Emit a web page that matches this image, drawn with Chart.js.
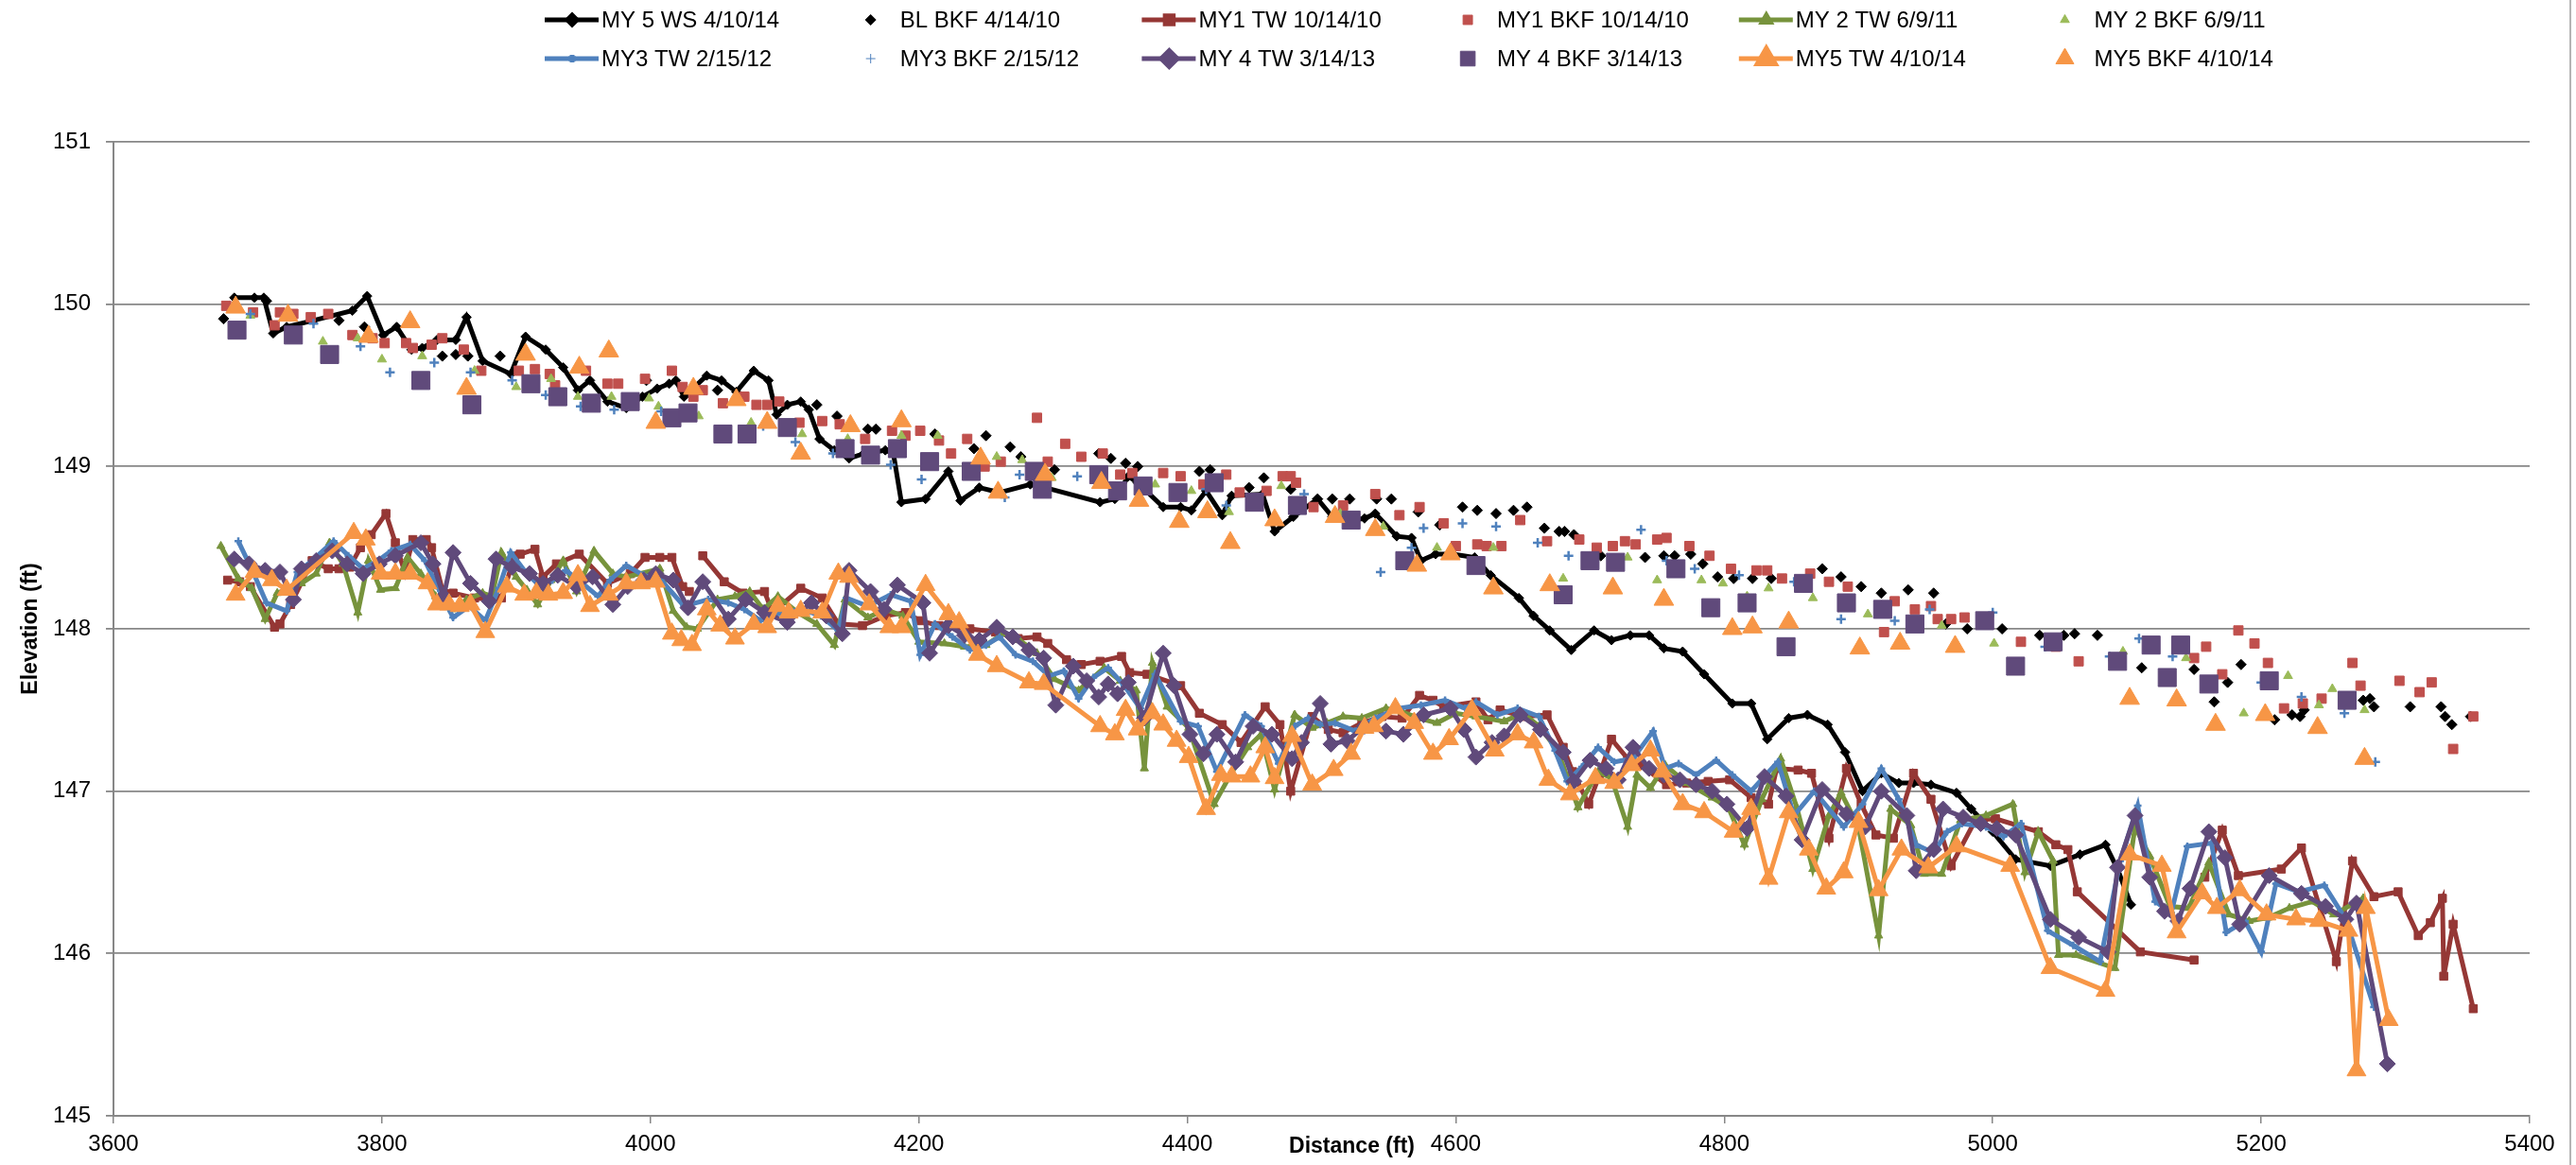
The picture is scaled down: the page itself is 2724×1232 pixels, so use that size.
<!DOCTYPE html>
<html>
<head>
<meta charset="utf-8">
<title>Perfil longitudinal</title>
<script src="https://cdn.jsdelivr.net/npm/chart.js"></script>
<style>
  html, body { margin: 0; padding: 0; background: #ffffff; }
  canvas { display: block; }
</style>
</head>
<body>
<canvas id="perfil" width="2724" height="1232"></canvas>
<script>
// --- Dados: distancia (ft) e elevacao (ft) de cada levantamento ---
const seriesNames = ['MY 5 WS 4/10/14', 'BL BKF 4/14/10', 'MY1 TW 10/14/10', 'MY1 BKF 10/14/10',
  'MY 2 TW 6/9/11', 'MY 2 BKF 6/9/11', 'MY3 TW 2/15/12', 'MY3 BKF 2/15/12',
  'MY 4 TW 3/14/13', 'MY 4 BKF 3/14/13', 'MY5 TW 4/10/14', 'MY5 BKF 4/10/14'];

const distanceTicks = [3600, 3800, 4000, 4200, 4400, 4600, 4800, 5000, 5200, 5400];
const elevationTicks = [145, 146, 147, 148, 149, 150, 151];

const wsDist = [3690,3705,3712,3719,3729,3749,3778,3789,3801,3811,
  3822,3830,3841,3855,3863,3875,3896,3907,3922,3935,
  3946,3955,3968,3982,3994,4005,4014,4019,4025,4042,
  4053,4064,4077,4088,4094,4102,4112,4118,4126,4137,
  4148,4159,4175,4181,4187,4205,4222,4231,4245,4260,
  4283,4294,4335,4346,4356,4363,4382,4395,4403,4414,
  4426,4433,4456,4465,4479,4497,4508,4523,4532,4540,
  4556,4567,4574,4585,4598,4614,4626,4647,4658,4670,
  4686,4703,4716,4730,4744,4755,4769,4785,4806,4820,
  4832,4848,4862,4877,4890,4903,4917,4930,4941,4954,
  4973,4984,5000,5017,5043,5065,5084,5093,5103];
const wsElev = [150.04,150.04,150.04,149.82,149.86,149.90,149.96,150.05,149.81,149.86,
  149.72,149.73,149.78,149.78,149.92,149.65,149.57,149.80,149.72,149.61,
  149.47,149.53,149.40,149.36,149.43,149.48,149.51,149.53,149.43,149.56,
  149.53,149.46,149.59,149.53,149.32,149.38,149.40,149.35,149.17,149.10,
  149.05,149.08,149.10,149.08,148.78,148.80,148.97,148.79,148.87,148.84,
  148.89,148.87,148.78,148.80,148.94,148.90,148.75,148.75,148.73,148.85,
  148.70,148.82,148.83,148.60,148.69,148.80,148.69,148.67,148.68,148.71,
  148.57,148.56,148.42,148.46,148.46,148.44,148.33,148.19,148.08,147.99,
  147.87,147.99,147.93,147.96,147.96,147.88,147.86,147.72,147.54,147.54,
  147.32,147.45,147.47,147.41,147.24,147.00,147.11,147.05,147.05,147.04,
  146.99,146.89,146.75,146.58,146.54,146.61,146.67,146.52,146.30];

const blBkfDist = [3682,3714,3768,3787,3845,3855,3864,3888,3997,4050,
  4124,4139,4162,4168,4212,4241,4250,4268,4276,4301,
  4334,4343,4354,4363,4409,4417,4446,4457,4477,4497,
  4508,4521,4541,4552,4572,4588,4605,4616,4630,4643,
  4653,4666,4677,4681,4688,4708,4741,4755,4763,4775,
  4784,4795,4807,4821,4835,4873,4887,4902,4917,4937,
  4956,4965,4981,5007,5035,5053,5061,5078,5111,5150,
  5165,5175,5185,5210,5223,5229,5232,5276,5281,5284,
  5311,5334,5337,5342,5356];
const blBkfElev = [149.91,150.02,149.90,149.86,149.68,149.69,149.68,149.68,149.53,149.47,
  149.38,149.31,149.23,149.23,149.20,149.11,149.19,149.12,149.06,148.98,
  149.08,149.05,149.02,149.00,148.97,148.98,148.87,148.93,148.86,148.80,
  148.80,148.80,148.80,148.80,148.72,148.64,148.75,148.73,148.71,148.73,
  148.75,148.62,148.60,148.60,148.58,148.45,148.44,148.45,148.45,148.46,
  148.40,148.32,148.31,148.31,148.31,148.37,148.32,148.26,148.22,148.24,
  148.22,148.03,148.00,148.00,147.96,147.96,147.97,147.96,147.76,147.75,
  147.55,147.67,147.78,147.44,147.47,147.46,147.50,147.56,147.57,147.52,
  147.52,147.52,147.46,147.41,147.46];

const my1TwDist = [3685,3694,3702,3720,3724,3732,3748,3760,3768,3776,
  3784,3792,3803,3810,3817,3823,3833,3837,3845,3853,
  3869,3880,3889,3899,3903,3914,3920,3930,3947,3968,
  3985,3996,4007,4016,4024,4029,4034,4039,4055,4069,
  4085,4091,4112,4128,4140,4158,4175,4190,4201,4215,
  4238,4257,4274,4288,4296,4310,4321,4335,4351,4357,
  4370,4395,4409,4426,4440,4458,4469,4477,4493,4505,
  4516,4530,4545,4560,4573,4583,4591,4615,4624,4633,
  4650,4668,4680,4687,4699,4707,4716,4728,4738,4757,
  4772,4788,4804,4820,4833,4839,4855,4865,4878,4891,
  4902,4913,4926,4941,4954,4969,4987,5002,5034,5047,
  5056,5063,5110,5150,5154,5158,5171,5183,5215,5230,
  5256,5268,5284,5302,5317,5326,5335,5336,5343,5358];
const my1TwElev = [148.30,148.29,148.26,148.01,148.03,148.15,148.42,148.37,148.37,148.38,
  148.50,148.58,148.71,148.53,148.35,148.55,148.55,148.50,148.24,148.22,
  148.19,148.18,148.19,148.45,148.46,148.49,148.32,148.40,148.46,148.28,
  148.34,148.44,148.44,148.44,148.26,148.23,null,148.45,148.29,148.22,
  148.23,148.10,148.25,148.19,148.03,148.02,148.08,148.10,148.05,148.02,
  148.00,147.98,147.94,147.95,147.91,147.81,147.78,147.80,147.83,147.73,
  147.72,147.65,147.48,147.41,147.30,147.52,147.41,147.00,147.46,147.38,
  147.36,147.42,147.46,147.45,147.59,147.56,147.52,147.55,147.44,147.50,
  147.46,147.47,147.27,147.12,146.92,147.10,147.32,147.20,147.16,147.04,
  147.05,147.06,147.07,146.96,146.92,147.14,147.13,147.11,146.71,147.14,
  146.92,146.73,146.71,147.11,146.95,146.54,146.82,146.83,146.75,146.67,
  146.64,146.38,146.01,145.96,null,146.47,146.76,146.48,146.52,146.65,
  145.95,146.57,146.35,146.38,146.11,146.19,146.34,145.86,146.18,145.66];

const my1BkfDist = [3684,3704,3720,3724,3734,3747,3760,3778,3793,3802,
  3818,3823,3837,3845,3861,3874,3902,3914,3925,3929,
  3952,3968,3976,3996,4016,4024,4032,4039,4054,4070,
  4079,4087,4096,4111,4128,4141,4160,4180,4190,4201,
  4215,4224,4236,4249,4261,4288,4296,4309,4321,4337,
  4350,4359,4382,4395,4412,4429,4439,4459,4471,4477,
  4481,4494,4516,4540,4558,4573,4591,4600,4616,4623,
  4634,4648,4668,4692,4705,4717,4726,4734,4750,4757,
  4774,4789,4805,4824,4832,4843,4864,4878,4892,4919,
  4927,4942,4954,4959,4969,4979,5021,5047,5064,5150,
  5159,5171,5183,5195,5205,5217,5231,5245,5268,5274,
  5303,5318,5327,5343,5358];
const my1BkfElev = [149.99,149.95,149.87,149.95,149.94,149.92,149.94,149.81,149.79,149.76,
  149.76,149.73,149.75,149.79,149.72,149.59,149.59,149.60,149.57,149.50,
  149.59,149.51,149.51,149.54,149.59,149.49,149.43,149.47,149.39,149.43,
  149.38,149.38,149.40,149.27,149.28,149.26,149.17,149.22,149.19,149.22,
  149.16,149.08,149.17,149.00,149.03,149.30,149.03,149.14,149.06,149.08,
  148.95,148.96,148.96,148.94,148.89,148.95,148.84,148.85,148.94,148.94,
  148.90,148.75,148.76,148.83,148.70,148.75,148.65,148.51,148.52,148.51,
  148.51,148.67,148.54,148.55,148.50,148.51,148.54,148.52,148.55,148.56,
  148.51,148.45,148.37,148.36,148.36,148.31,148.34,148.29,148.26,147.98,
  148.17,148.12,148.14,148.06,148.06,148.07,147.92,147.89,147.80,147.82,
  147.89,147.72,147.99,147.91,147.79,147.51,147.54,147.57,147.79,147.65,
  147.68,147.61,147.67,147.26,147.46];

const my2TwDist = [3680,3693,3703,3713,3722,3740,3751,3761,3771,3782,
  3790,3799,3810,3819,3829,3840,3852,3863,3875,3882,
  3889,3900,3908,3916,3926,3935,3945,3958,3972,3982,
  4007,4017,4027,4035,4050,4063,4074,4084,4095,4110,
  4124,4137,4145,4162,4175,4188,4200,4219,4234,4250,
  4263,4275,4288,4301,4319,4338,4350,4362,4368,4374,
  4385,4401,4420,4432,4445,4455,4465,4480,4493,4504,
  4516,4530,4548,4560,4572,4586,4600,4615,4636,4650,
  4662,4676,4691,4706,4716,4728,4735,4745,4756,4772,
  4791,4803,4815,4828,4842,4854,4866,4878,4887,4900,
  4915,4924,4939,4949,4962,4976,4995,5015,5024,5034,
  5045,5049,5062,5091,5106,5117,5132,5146,5161,5176,
  5191,5205,5221,5238,5254,5276];
const my2TwElev = [148.51,148.31,148.25,148.06,148.22,148.28,148.34,148.53,148.40,148.10,
  148.42,148.24,148.25,148.44,148.34,148.20,148.12,148.18,148.22,148.20,
  148.47,148.32,148.24,148.15,148.30,148.42,148.23,148.48,148.34,148.32,
  148.37,148.11,148.01,148.00,148.18,148.20,148.23,148.12,148.20,148.10,
  148.03,147.90,148.18,148.07,148.12,148.08,147.92,147.91,147.89,147.90,
  147.97,147.93,147.85,147.69,147.62,147.76,147.68,147.62,147.14,147.79,
  147.52,147.39,146.92,147.10,147.27,147.35,147.01,147.47,147.39,147.42,
  147.46,147.45,147.51,147.49,147.45,147.42,147.48,147.46,147.43,147.48,
  147.40,147.25,146.90,147.12,147.08,146.78,147.10,147.02,147.16,147.05,
  146.96,146.90,146.67,146.95,147.20,146.90,146.52,146.85,146.99,146.78,
  146.11,146.89,146.79,146.49,146.49,146.82,146.85,146.92,146.50,146.75,
  146.57,145.99,145.99,145.91,146.78,146.60,146.29,146.28,146.56,146.24,
  146.20,146.22,146.28,146.32,146.24,146.34];

const my2BkfDist = [3702,3756,3782,3800,3830,3869,3900,3926,3946,3971,
  3999,4006,4036,4075,4113,4147,4187,4214,4258,4277,
  4299,4376,4403,4431,4470,4514,4546,4586,4628,4680,
  4728,4750,4783,4799,4817,4833,4866,4907,4962,5001,
  5097,5144,5187,5220,5243,5253,5277];
const my2BkfElev = [149.93,149.77,149.79,149.66,149.68,149.59,149.49,149.54,149.43,149.43,
  149.42,149.37,149.31,149.27,149.20,149.17,149.19,149.19,149.06,149.04,
  148.93,148.89,148.85,148.72,148.88,148.71,148.63,148.50,148.50,148.31,
  148.44,148.30,148.30,148.28,148.20,148.25,148.19,148.09,148.02,147.91,
  147.86,147.82,147.48,147.71,147.53,147.63,147.50];

const my3TwDist = [3693,3704,3714,3729,3737,3748,3764,3775,3786,3797,
  3807,3821,3832,3842,3853,3865,3877,3887,3896,3907,
  3918,3927,3937,3948,3961,3970,3982,3995,4008,4025,
  4043,4058,4070,4082,4097,4113,4127,4140,4146,4162,
  4179,4194,4201,4212,4225,4238,4250,4260,4272,4285,
  4297,4308,4319,4330,4341,4353,4365,4376,4395,4408,
  4422,4443,4455,4468,4480,4490,4499,4510,4525,4540,
  4557,4574,4592,4607,4615,4631,4646,4662,4674,4683,
  4694,4706,4718,4732,4747,4756,4766,4779,4794,4806,
  4820,4831,4840,4852,4867,4889,4903,4917,4930,4943,
  4956,4966,4977,4995,5008,5021,5041,5060,5080,5095,
  5108,5121,5133,5145,5163,5174,5188,5200,5211,5228,
  5247,5263,5284];
const my3TwElev = [148.54,148.35,148.16,148.11,148.35,148.42,148.54,148.45,148.37,148.42,
  148.48,148.52,148.42,148.25,148.07,148.14,148.05,148.25,148.47,148.35,
  148.26,148.30,148.36,148.29,148.20,148.30,148.39,148.33,148.30,148.14,
  148.18,148.16,148.12,148.05,148.10,148.12,148.08,147.99,148.19,148.14,
  148.21,148.17,147.84,148.03,147.95,147.87,147.90,147.95,147.84,147.80,
  147.71,147.74,147.57,147.70,147.76,147.65,147.51,147.72,147.43,147.40,
  147.12,147.47,147.40,147.17,147.40,147.45,147.41,147.42,147.37,147.45,
  147.51,147.53,147.56,147.51,147.55,147.47,147.51,147.46,147.25,147.06,
  147.15,147.27,147.18,147.20,147.37,147.14,147.17,147.10,147.19,147.10,
  147.00,147.10,147.18,146.85,147.00,146.78,146.92,147.14,146.95,146.67,
  146.62,146.75,146.80,146.78,146.72,146.80,146.14,146.05,145.95,146.57,
  146.91,146.32,146.25,146.66,146.68,146.13,146.20,146.01,146.43,146.38,
  146.42,146.21,145.67];

const my3BkfDist = [3702,3749,3784,3806,3839,3866,3897,3922,3948,3973,
  4008,4084,4108,4136,4179,4202,4264,4275,4318,4414,
  4429,4487,4544,4567,4576,4605,4630,4661,4684,4738,
  4757,4778,4811,4852,4887,4927,4953,5000,5039,5087,
  5109,5134,5200,5230,5262,5285];
const my3BkfElev = [149.94,149.88,149.74,149.58,149.64,149.58,149.53,149.44,149.37,149.35,
  149.34,149.25,149.15,149.08,149.01,148.92,148.81,148.95,148.94,148.86,
  148.76,148.83,148.35,148.50,148.62,148.65,148.63,148.53,148.45,148.61,
  148.42,148.37,148.33,148.29,148.06,148.05,148.12,148.10,147.89,147.83,
  147.94,147.83,147.67,147.58,147.48,147.18];

const my4TwDist = [3690,3701,3713,3724,3734,3740,3751,3763,3774,3786,
  3798,3810,3829,3838,3846,3853,3866,3880,3885,3897,
  3910,3920,3931,3945,3957,3972,3983,3995,4004,4017,
  4028,4039,4058,4071,4085,4102,4120,4131,4143,4148,
  4164,4174,4184,4203,4208,4222,4234,4245,4258,4270,
  4282,4293,4302,4315,4325,4334,4341,4348,4356,4368,
  4382,4390,4402,4412,4422,4436,4449,4463,4478,4485,
  4499,4507,4519,4532,4548,4561,4576,4596,4606,4615,
  4627,4636,4648,4663,4680,4688,4700,4712,4721,4732,
  4744,4755,4767,4779,4791,4802,4817,4830,4846,4858,
  4873,4891,4905,4917,4936,4943,4956,4963,4978,4991,
  5003,5017,5043,5064,5086,5093,5106,5117,5128,5138,
  5147,5161,5173,5184,5206,5230,5248,5263,5271,5294];
const my4TwElev = [148.43,148.40,148.36,148.35,148.18,148.37,148.42,148.48,148.40,148.34,
  148.40,148.45,148.53,148.40,148.20,148.47,148.28,148.17,148.43,148.38,
  148.34,148.28,148.33,148.26,148.32,148.15,148.26,148.30,148.34,148.30,
  148.13,148.29,148.06,148.18,148.10,148.04,148.16,148.08,147.97,148.36,
  148.23,148.12,148.27,148.16,147.85,148.02,147.96,147.93,148.01,147.95,
  147.87,147.82,147.53,147.77,147.68,147.58,147.66,147.60,147.67,147.45,
  147.85,147.65,147.35,147.23,147.35,147.18,147.40,147.35,147.20,147.30,
  147.54,147.29,147.31,147.40,147.37,147.35,147.47,147.51,147.38,147.21,
  147.30,147.34,147.47,147.38,147.24,147.06,147.19,147.14,147.07,147.27,
  147.14,147.10,147.07,147.04,147.00,146.92,146.77,147.09,146.97,146.70,
  147.01,146.86,146.78,147.00,146.85,146.51,146.64,146.89,146.84,146.80,
  146.77,146.73,146.21,146.10,146.01,146.53,146.85,146.47,146.26,146.20,
  146.40,146.75,146.59,146.18,146.48,146.37,146.29,146.21,146.31,145.32];

const my4BkfDist = [3692,3734,3761,3829,3867,3911,3931,3956,3985,4016,
  4028,4054,4072,4102,4145,4164,4184,4208,4239,4286,
  4292,4334,4348,4367,4393,4420,4450,4482,4522,4562,
  4615,4680,4700,4719,4764,4790,4817,4846,4859,4891,
  4918,4942,4994,5017,5045,5093,5118,5130,5140,5161,
  5206,5264];
const my4BkfElev = [149.84,149.81,149.69,149.53,149.38,149.51,149.43,149.39,149.40,149.30,
  149.33,149.20,149.20,149.24,149.11,149.07,149.11,149.03,148.97,148.97,
  148.86,148.95,148.85,148.88,148.84,148.90,148.78,148.76,148.67,148.42,
  148.39,148.21,148.42,148.41,148.37,148.13,148.16,147.89,148.28,148.16,
  148.12,148.03,148.05,147.77,147.92,147.80,147.90,147.70,147.90,147.66,
  147.68,147.56];

const my5TwDist = [3691,3705,3718,3729,3779,3788,3799,3810,3821,3834,
  3841,3850,3858,3866,3877,3893,3906,3915,3924,3935,
  3946,3955,3969,3982,3993,4004,4016,4023,4031,4042,
  4052,4063,4077,4087,4095,4103,4112,4128,4140,4148,
  4163,4178,4187,4205,4222,4230,4244,4258,4282,4293,
  4335,4346,4354,4363,4374,4382,4392,4401,4414,4425,
  4433,4447,4458,4465,4478,4493,4509,4522,4532,4539,
  4555,4569,4583,4595,4612,4629,4646,4658,4669,4685,
  4704,4718,4731,4745,4754,4769,4785,4807,4820,4833,
  4848,4863,4876,4889,4900,4915,4932,4952,4973,5013,
  5043,5084,5102,5126,5137,5156,5167,5184,5204,5226,
  5243,5265,5271,5278,5295];
const my5TwElev = [148.21,148.35,148.30,148.24,148.59,148.55,148.34,148.34,148.34,148.28,
  148.15,148.15,148.14,148.15,147.98,148.26,148.21,148.22,148.21,148.22,
  148.33,148.14,148.21,148.28,148.28,148.29,147.97,147.93,147.90,148.12,
  148.02,147.94,148.03,148.01,148.14,148.10,148.11,148.10,148.34,148.32,
  148.15,148.01,148.01,148.27,148.09,148.04,147.84,147.77,147.67,147.66,
  147.40,147.35,147.50,147.38,147.48,147.41,147.31,147.21,146.89,147.10,
  147.09,147.09,147.27,147.08,147.34,147.04,147.13,147.23,147.39,147.40,
  147.51,147.42,147.23,147.32,147.50,147.25,147.35,147.30,147.07,146.98,
  147.08,147.05,147.16,147.25,147.12,146.92,146.87,146.75,146.89,146.46,
  146.87,146.64,146.40,146.50,146.81,146.39,146.64,146.53,146.66,146.54,
  145.91,145.77,146.61,146.54,146.13,146.37,146.28,146.39,146.24,146.21,
  146.20,146.14,145.28,146.28,145.59];

const my5BkfDist = [3691,3730,3790,3821,3863,3907,3947,3969,4004,4032,
  4064,4087,4112,4149,4187,4246,4259,4294,4336,4364,
  4394,4415,4432,4465,4510,4540,4571,4596,4628,4670,
  4717,4755,4806,4821,4848,4901,4931,4972,5102,5137,
  5166,5203,5242,5277];
const my5BkfElev = [149.98,149.93,149.80,149.89,149.48,149.69,149.61,149.71,149.27,149.48,
  149.41,149.27,149.08,149.25,149.28,149.05,148.84,148.95,148.90,148.79,
  148.66,148.72,148.53,148.67,148.69,148.61,148.39,148.46,148.25,148.27,
  148.25,148.18,148.00,148.01,148.04,147.88,147.91,147.89,147.57,147.56,
  147.41,147.47,147.39,147.20];

// --- Estilo de cada serie (mesma ordem de seriesNames) ---
const seriesStyles = [
  { color: '#000000', line: 5, point: 'rectRot', radius: 5 },
  { color: '#000000', line: 0, point: 'rectRot', radius: 5.5 },
  { color: '#953735', line: 5, point: 'rect', radius: 6 },
  { color: '#C0504D', line: 0, point: 'rect', radius: 7 },
  { color: '#77933C', line: 5, point: 'triangle', radius: 5 },
  { color: '#9BBB59', line: 0, point: 'triangle', radius: 5.5 },
  { color: '#4F81BD', line: 5, point: 'cross', radius: 4 },
  { color: '#4F81BD', line: 0, point: 'cross', radius: 5 },
  { color: '#604A7B', line: 5, point: 'rectRot', radius: 8.5 },
  { color: '#604A7B', line: 0, point: 'rect', radius: 13.5 },
  { color: '#F79646', line: 5, point: 'triangle', radius: 11.5 },
  { color: '#F79646', line: 0, point: 'triangle', radius: 12 }
];

const seriesData = [
  [wsDist, wsElev], [blBkfDist, blBkfElev], [my1TwDist, my1TwElev], [my1BkfDist, my1BkfElev],
  [my2TwDist, my2TwElev], [my2BkfDist, my2BkfElev], [my3TwDist, my3TwElev], [my3BkfDist, my3BkfElev],
  [my4TwDist, my4TwElev], [my4BkfDist, my4BkfElev], [my5TwDist, my5TwElev], [my5BkfDist, my5BkfElev]
];

const toPoints = (xs, ys) => xs.map((x, i) => ({ x: x, y: ys[i] }));

const datasets = seriesNames.map((name, i) => {
  const st = seriesStyles[i];
  const [xs, ys] = seriesData[i];
  const isCross = st.point === 'cross';
  return {
    label: name,
    data: toPoints(xs, ys),
    showLine: st.line > 0,
    spanGaps: false,
    borderColor: st.color,
    backgroundColor: st.color,
    borderWidth: st.line,
    tension: 0,
    pointStyle: st.point,
    pointRadius: st.radius,
    pointHoverRadius: st.radius,
    pointBackgroundColor: st.color,
    pointBorderColor: st.color,
    pointBorderWidth: isCross ? 2.5 : 1,
    order: seriesNames.length - i   // series seguintes ficam por cima
  };
});

const FONT = '"Liberation Sans", Arial, sans-serif';
const gridColor = '#878787';

// Legenda em grade (6 colunas x 2 linhas) e titulos dos eixos
const extrasPlugin = {
  id: 'extras',
  afterDraw(chart) {
    const ctx = chart.ctx;
    const firstText = 636, colStep = 315.7, rowY = [21, 62];

    chart.data.datasets.forEach((ds, i) => {
      const st = seriesStyles[i];
      const tx = firstText + (i % 6) * colStep;
      const ty = rowY[Math.floor(i / 6)];
      const mx = tx - 31;
      ctx.save();
      if (st.line > 0) {
        ctx.strokeStyle = st.color;
        ctx.lineWidth = st.line;
        ctx.beginPath();
        ctx.moveTo(tx - 60, ty);
        ctx.lineTo(tx - 3, ty);
        ctx.stroke();
      }
      ctx.fillStyle = st.color;
      ctx.strokeStyle = st.color;
      const r = Math.min(st.radius, 11);
      Chart.helpers.drawPoint(ctx, {
        pointStyle: st.point, radius: r, rotation: 0,
        borderWidth: st.point === 'cross' ? 2.5 : 1
      }, mx, ty);
      ctx.fillStyle = '#000000';
      ctx.font = '24px ' + FONT;
      ctx.textAlign = 'left';
      ctx.textBaseline = 'middle';
      ctx.fillText(ds.label, tx, ty + 1);
      ctx.restore();
    });

    // titulo do eixo x fica entre os rotulos 4400 e 4600
    const area = chart.chartArea;
    ctx.save();
    ctx.fillStyle = '#000000';
    ctx.font = 'bold 23px ' + FONT;
    ctx.textAlign = 'center';
    ctx.textBaseline = 'middle';
    ctx.fillText('Distance (ft)', (area.left + area.right) / 2 + 32, 1213);
    ctx.translate(33, (area.top + area.bottom) / 2);
    ctx.rotate(-Math.PI / 2);
    ctx.fillText('Elevation (ft)', 0, 0);
    ctx.restore();

    // borda direita do grafico
    ctx.save();
    ctx.strokeStyle = '#b4b4b4';
    ctx.lineWidth = 2;
    ctx.beginPath();
    ctx.moveTo(2718, 0);
    ctx.lineTo(2718, 1232);
    ctx.stroke();
    ctx.restore();
  }
};

new Chart(document.getElementById('perfil'), {
  type: 'scatter',
  data: { datasets },
  options: {
    responsive: false,
    animation: false,
    events: [],
    layout: { padding: { top: 150, right: 49, left: 0, bottom: 0 } },
    plugins: {
      legend: { display: false },
      tooltip: { enabled: false }
    },
    scales: {
      x: {
        type: 'linear',
        min: 3600,
        max: 5400,
        afterBuildTicks: (s) => { s.ticks = distanceTicks.map(v => ({ value: v })); },
        afterFit: (s) => { s.height = 52; },
        ticks: {
          color: '#000000', font: { family: FONT, size: 24 }, padding: 8, maxRotation: 0,
          callback: (v) => String(v)
        },
        grid: { drawOnChartArea: false, drawTicks: true, tickLength: 8, color: gridColor, lineWidth: 1.5 },
        border: { display: true, color: gridColor, width: 2 }
      },
      y: {
        type: 'linear',
        min: 145,
        max: 151,
        afterBuildTicks: (s) => { s.ticks = elevationTicks.map(v => ({ value: v })); },
        afterFit: (s) => { s.width = 120; },
        ticks: {
          color: '#000000', font: { family: FONT, size: 24 }, padding: 16,
          callback: (v) => String(v)
        },
        grid: { color: gridColor, lineWidth: 1.8, tickLength: 8 },
        border: { display: true, color: gridColor, width: 2 }
      }
    }
  },
  plugins: [extrasPlugin]
});
</script>
</body>
</html>
